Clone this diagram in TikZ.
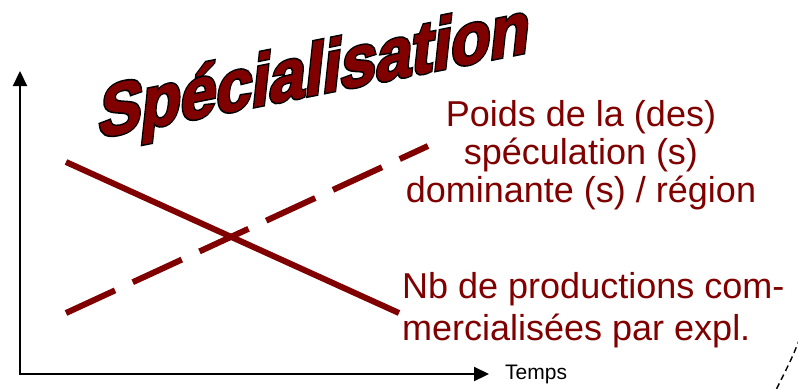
\documentclass[tikz,border=0pt]{standalone}
\usepackage{fontspec}
\setmainfont{Liberation Sans}
\newfontfamily\titlefont{Liberation Sans Bold}[FakeBold=1.2]
\newfontfamily\titleoutline{Liberation Sans Bold}[FakeBold=5.5]
\usetikzlibrary{arrows.meta}
\definecolor{darkred}{RGB}{128,0,0}
\tikzset{
  axis/.style={line width=2.2pt, black, {Triangle[length=15pt,width=14pt]}-{Triangle[length=15pt,width=14pt]}},
  curve/.style={line width=6pt, darkred},
  redlabel/.style={inner sep=0pt, text=darkred},
  titlebase/.style={inner sep=0pt, anchor=base west, shift={(97,138)}, yslant=0.2, xslant=0.11, yscale=1.14, transform shape,
                    text height=44pt, text depth=0pt, font=\fontsize{64}{70}\selectfont},
}
\begin{document}
\begin{tikzpicture}[x=1pt, y=-1pt]
\useasboundingbox (0,0) rectangle (798,389);
% axes
\coordinate (O) at (20,374);
\coordinate (Ytop) at (20,71);
\coordinate (Xend) at (489,374);
\draw[axis] (Ytop) -- (O) -- (Xend);
\node[inner sep=0pt, anchor=base west, font=\fontsize{21}{24}\selectfont] (temps) at (505,379) {Temps};
% curves
\coordinate (s1) at (66,162);
\coordinate (s2) at (399,313);
\coordinate (d1) at (66,313);
\coordinate (d2) at (428,146);
\draw[curve] (s1) -- (s2);
\draw[curve, dash pattern=on 54pt off 19.5pt] (d1) -- (d2);
% labels
\node[redlabel, align=center, anchor=base, font=\fontsize{36}{38}\selectfont] (poids) at (581,202) {Poids de la (des)\\spéculation (s)\\dominante (s) / région};
\node[redlabel, align=left, anchor=base west, font=\fontsize{36}{42}\selectfont] (nb) at (402,340) {Nb de productions com-\\mercialisées par expl.};
% title
\node[titlebase, text=black] (titleout) at (0,0) {\titleoutline Spécialisation};
\node[titlebase, text=darkred] (title) at (0,0) {\titlefont Spécialisation};
% dashed arc fragment
\coordinate (a1) at (800,338);
\coordinate (a2) at (776,390);
\draw[black, line width=1.4pt, dash pattern=on 6pt off 4pt] (a1) .. controls (792,358) .. (a2);
\end{tikzpicture}
\end{document}
